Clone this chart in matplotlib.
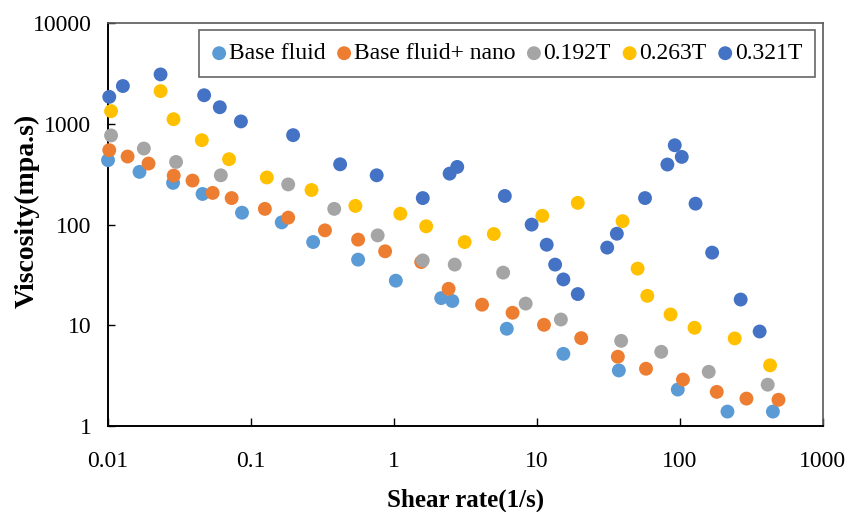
import matplotlib
matplotlib.use("Agg")
import matplotlib.pyplot as plt

# Shear rate (1/s) and viscosity (mpa.s)
base_x = [0.0100, 0.0166, 0.0285, 0.0458, 0.0865, 0.164, 0.272, 0.561,
          1.03, 2.14, 2.56, 6.15, 15.3, 37.4, 96.6, 215, 447]
base_y = [435, 333, 259, 201, 131, 105, 67, 44.8,
          27.7, 18.6, 17.4, 9.23, 5.2, 3.56, 2.3, 1.39, 1.39]

nano_x = [0.0102, 0.0137, 0.0192, 0.0288, 0.039, 0.0539, 0.0732, 0.125,
          0.182, 0.329, 0.561, 0.867, 1.55, 2.41, 4.13, 6.75, 11.2, 20.4,
          36.8, 57.9, 105, 181, 292, 489]
nano_y = [547, 473, 403, 306, 273, 206, 183, 143,
          117, 87.5, 70.8, 54.2, 42.4, 23, 16, 13.3, 10.1, 7.45,
          4.87, 3.7, 2.89, 2.18, 1.87, 1.82]

t192_x = [0.0105, 0.0178, 0.0299, 0.0615, 0.182, 0.382, 0.769, 1.59,
          2.66, 5.8, 8.34, 14.7, 38.8, 74, 159, 411]
t192_y = [766, 568, 418, 308, 250, 143, 78, 44,
          40, 33.3, 16.4, 11.4, 7.0, 5.45, 3.45, 2.57]

t263_x = [0.0105, 0.0233, 0.0287, 0.0453, 0.0702, 0.129, 0.265, 0.537,
          1.107, 1.68, 3.12, 4.99, 10.9, 19.3, 39.7, 50.6, 59.1, 86,
          126.5, 241.6, 427]
t263_y = [1335, 2110, 1110, 687, 445, 293, 220, 153,
          128, 96, 67, 80.5, 122, 164, 108, 36.5, 19.6, 12.8,
          9.44, 7.4, 4.0]

t321_x = [0.0102, 0.0127, 0.0233, 0.047, 0.0605, 0.085, 0.197, 0.42,
          0.757, 1.59, 2.45, 2.77, 5.96, 9.18, 11.7, 13.4, 15.3, 19.3,
          31, 36.2, 57, 81.7, 92, 103, 128.6, 168, 266, 361]
t321_y = [1850, 2370, 3090, 1920, 1460, 1055, 771, 396,
          308, 183, 320, 373, 192, 99.8, 63, 40, 28.5, 20.4,
          59, 81, 183, 394, 612, 469, 161, 52.6, 18.0, 8.67]

labels = ["Base fluid", "Base fluid+ nano", "0.192T", "0.263T", "0.321T"]
colors = ["#5B9BD5", "#ED7D31", "#A5A5A5", "#FFC000", "#4472C4"]

x_ticks = [0.01, 0.1, 1, 10, 100, 1000]
x_tick_labels = ["0.01", "0.1", "1", "10", "100", "1000"]
y_ticks = [1, 10, 100, 1000, 10000]
y_tick_labels = ["1", "10", "100", "1000", "10000"]


def main():
    plt.rcParams["font.family"] = ["Liberation Serif", "DejaVu Serif"]

    fig = plt.figure(figsize=(8.48, 5.12), dpi=100)
    ax = fig.add_axes([0.1274, 0.168, 0.843, 0.787])

    series = [(base_x, base_y), (nano_x, nano_y), (t192_x, t192_y),
              (t263_x, t263_y), (t321_x, t321_y)]
    for (xs, ys), lab, col in zip(series, labels, colors):
        ax.scatter(xs, ys, s=100, color=col, edgecolors="none", label=lab,
                   zorder=3, clip_on=False)

    ax.set_xscale("log")
    ax.set_yscale("log")
    ax.set_xlim(0.01, 1000)
    ax.set_ylim(1, 10000)
    ax.set_xticks(x_ticks)
    ax.set_xticklabels(x_tick_labels)
    ax.set_yticks(y_ticks)
    ax.set_yticklabels(y_tick_labels)
    ax.minorticks_off()
    ax.tick_params(axis="x", direction="in", length=6, width=1,
                   labelsize=17, pad=18)
    ax.tick_params(axis="y", direction="in", length=5, width=1,
                   labelsize=17, pad=12)

    for side in ["left", "bottom"]:
        ax.spines[side].set_color("black")
        ax.spines[side].set_linewidth(1.4)
    for side in ["top", "right"]:
        ax.spines[side].set_color("#595959")
        ax.spines[side].set_linewidth(1.2)

    ax.set_xlabel("Shear rate(1/s)", fontsize=18, fontweight="bold",
                  labelpad=12)
    ax.set_ylabel("Viscosity(mpa.s)", fontsize=20, fontweight="bold")
    ax.yaxis.set_label_coords(-0.096, 0.533)

    leg = ax.legend(loc="upper right", bbox_to_anchor=(0.989, 0.983),
                    borderaxespad=0, ncol=5, fontsize=17, frameon=True,
                    fancybox=False, handlelength=0.6, handletextpad=0.1,
                    columnspacing=0.5, borderpad=0.55, scatterpoints=1)
    leg.get_frame().set_edgecolor("#404040")
    leg.get_frame().set_linewidth(1.2)

    fig.savefig("out.png", dpi=100)


if __name__ == "__main__":
    main()
